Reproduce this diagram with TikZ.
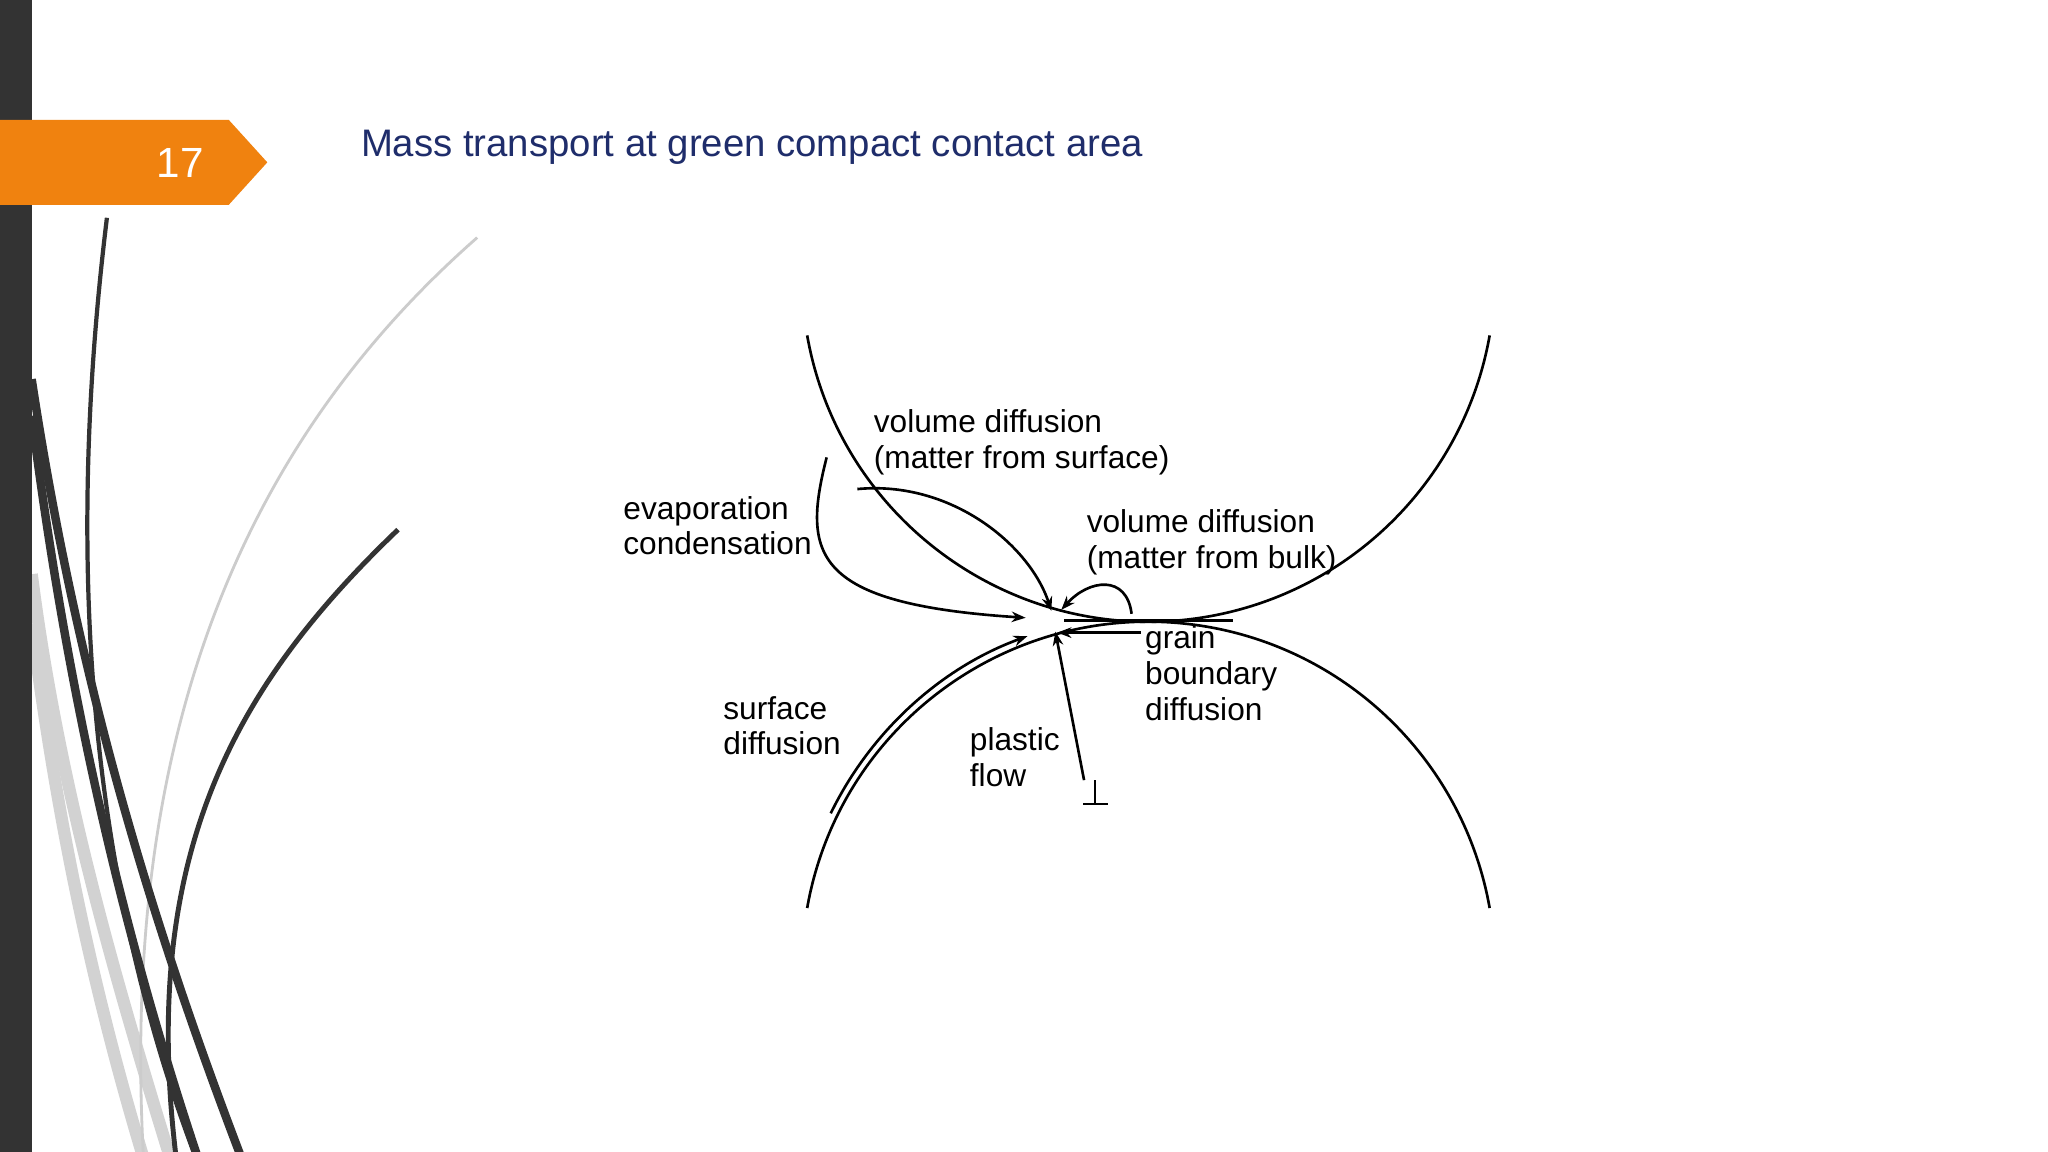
\documentclass[tikz,border=0pt]{standalone}
\usepackage{fontspec}
\setmainfont{Liberation Sans}
\usetikzlibrary{arrows.meta}
\definecolor{navy}{HTML}{1F2D6B}
\definecolor{orng}{HTML}{F0820F}
\definecolor{barc}{HTML}{333333}
\begin{document}
\begin{tikzpicture}[x=0.01cm,y=-0.01cm,
  lbl/.style={anchor=west,align=left,font=\fontsize{9}{10.2}\selectfont,inner sep=0pt},
  ln/.style={line width=0.75pt},
  arr/.style={ln,-{Stealth[length=4pt,width=3pt]}},
  deco/.style={line width=1.6pt}]
\useasboundingbox (0,0) rectangle (2048,1152);
\fill[white] (0,0) rectangle (2048,1152);
\begin{scope}[scale=0.99]
% left decorative curves
\draw[deco,gray!35,line width=3.5pt] (32,580) .. controls (60,800) and (120,1000) .. (172,1170);
\draw[deco,gray!35,line width=3.5pt] (32,630) .. controls (60,850) and (100,1020) .. (145,1170);
\draw[gray!40,line width=0.8pt] (482,240) .. controls (260,435) and (120,720) .. (145,1170);
\draw[barc,line width=1.2pt] (108,220) .. controls (70,530) and (80,860) .. (198,1170);
\draw[deco,barc,line width=2.4pt] (32,383) .. controls (80,700) and (160,950) .. (244,1170);
\draw[deco,barc,line width=2.4pt] (32,420) .. controls (70,720) and (130,960) .. (200,1170);
\draw[barc,line width=1.4pt] (402,535) .. controls (240,690) and (140,860) .. (178,1170);
\end{scope}
\fill[barc] (0,0) rectangle (32,1152);
\begin{scope}[scale=0.99]
% header
\fill[orng] (-10,121) -- (231,121) -- (270,164) -- (231,207) -- (-10,207) -- cycle;
\node[text=white,font=\fontsize{12}{14}\selectfont] (num) at (182,165) {17};
\node[anchor=west,text=navy,font=\fontsize{10.9}{12}\selectfont,inner sep=0pt] (title) at (364,149) {Mass transport at green compact contact area};
% grains
\draw[ln] (1160,278) ++(170:350) arc[start angle=170,end angle=10,radius=350];
\draw[ln] (1160,978) ++(190:350) arc[start angle=190,end angle=350,radius=350];
\draw[ln] (1075,627) -- (1245,627);
% labels
\node[lbl] (vds) at (882,447) {volume diffusion\\(matter from surface)};
\node[lbl] (ec) at (629,531) {evaporation\\condensation};
\node[lbl] (vdb) at (1097,548) {volume diffusion\\(matter from bulk)};
\node[lbl] (gb) at (1156,680) {grain\\boundary\\diffusion};
\node[lbl] (sd) at (730,733) {surface\\diffusion};
\node[lbl] (pf) at (979,765) {plastic\\flow};
% arrows
\coordinate (ecs) at (835,462);
\coordinate (ece) at (1036,624);
\draw[arr] (ecs) .. controls (810,560) and (820,610) .. (ece);
\draw[arr] (1160,978) ++(206:357) arc[start angle=206,end angle=250,radius=357];
\coordinate (vss) at (866,494);
\coordinate (vse) at (1062,617);
\draw[arr] (vss) .. controls (960,485) and (1040,550) .. (vse);
\coordinate (vbs) at (1143,620);
\coordinate (vbe) at (1072,616);
\draw[arr] (vbs) .. controls (1138,580) and (1100,585) .. (vbe);
\coordinate (gbs) at (1152,639);
\coordinate (gbe) at (1068,639);
\draw[arr] (gbs) -- (gbe);
\coordinate (pfs) at (1095,788);
\coordinate (pfe) at (1066,638);
\draw[arr] (pfs) -- (pfe);
\draw[ln] (1106,788) -- (1106,812) (1094,812) -- (1119,812);
\end{scope}
\end{tikzpicture}
\end{document}
